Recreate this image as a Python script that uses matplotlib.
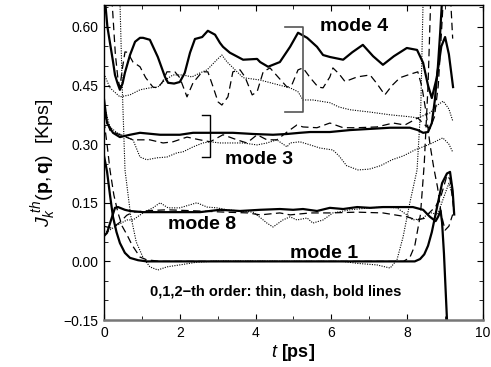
import matplotlib
matplotlib.use('Agg')
import matplotlib.pyplot as plt
import numpy as np

plt.rcParams['font.family'] = ['Liberation Sans', 'DejaVu Sans']
plt.rcParams['mathtext.fontset'] = 'custom'
plt.rcParams['mathtext.rm'] = 'Liberation Sans'
plt.rcParams['mathtext.it'] = 'Liberation Sans:italic'
plt.rcParams['mathtext.bf'] = 'Liberation Sans:bold'

# curves: (t [ps], J [Kps])
# mode 4
m4_bold = [(0.0, 0.80), (0.026, 0.669), (0.09, 0.60), (0.158, 0.559), (0.24, 0.51), (0.29, 0.477),
           (0.36, 0.455), (0.42, 0.439), (0.49, 0.455), (0.55, 0.482), (0.686, 0.528), (0.82, 0.562),
           (0.95, 0.572), (1.03, 0.572), (1.21, 0.567), (1.42, 0.523), (1.61, 0.472), (1.69, 0.457),
           (1.85, 0.455), (2.0, 0.459), (2.13, 0.482), (2.27, 0.534), (2.40, 0.569), (2.59, 0.574),
           (2.74, 0.590), (2.93, 0.580), (3.06, 0.559), (3.14, 0.549), (3.32, 0.534), (3.67, 0.516),
           (4.04, 0.518), (4.12, 0.510), (4.33, 0.498), (4.64, 0.510), (4.91, 0.549), (5.12, 0.585),
           (5.36, 0.572), (5.62, 0.549), (5.78, 0.528), (5.96, 0.523), (6.31, 0.516), (6.55, 0.535),
           (6.83, 0.554), (7.10, 0.525), (7.36, 0.503), (7.65, 0.525), (7.99, 0.546), (8.26, 0.541),
           (8.42, 0.508), (8.55, 0.450), (8.65, 0.418), (8.78, 0.470), (8.90, 0.550), (9.0, 0.574),
           (9.1, 0.530), (9.21, 0.446)]
m4_dash = [(0.15, 0.80), (0.21, 0.669), (0.3, 0.53), (0.37, 0.465), (0.42, 0.446), (0.48, 0.49),
           (0.554, 0.536), (0.62, 0.535), (0.765, 0.51), (0.95, 0.498), (1.1, 0.47), (1.29, 0.446),
           (1.42, 0.444), (1.55, 0.46), (1.66, 0.485), (1.87, 0.485), (2.0, 0.470), (2.19, 0.421),
           (2.35, 0.457), (2.59, 0.485), (2.74, 0.485), (2.88, 0.446), (3.01, 0.408), (3.11, 0.40),
           (3.27, 0.421), (3.40, 0.485), (3.59, 0.49), (3.72, 0.472), (3.91, 0.426), (4.04, 0.434),
           (4.20, 0.485), (4.38, 0.495), (4.59, 0.472), (4.83, 0.446), (4.95, 0.45), (5.12, 0.49),
           (5.25, 0.495), (5.44, 0.47), (5.65, 0.446), (5.78, 0.444), (5.96, 0.472), (6.04, 0.495),
           (6.2, 0.48), (6.36, 0.46), (6.68, 0.472), (7.02, 0.477), (7.2, 0.455), (7.41, 0.426),
           (7.6, 0.45), (7.81, 0.47), (8.05, 0.478), (8.28, 0.485), (8.39, 0.446), (8.5, 0.38),
           (8.6, 0.30), (8.7, 0.24), (8.8, 0.19), (8.9, 0.12), (9.0, 0.08), (9.1, 0.09), (9.2, 0.12)]
m4_thin = [(0.0, 0.48), (0.158, 0.444), (0.42, 0.421), (0.686, 0.426), (0.95, 0.439), (1.21, 0.444),
           (1.42, 0.446), (1.61, 0.464), (1.82, 0.477), (2.08, 0.477), (2.32, 0.472), (2.53, 0.482),
           (2.72, 0.490), (2.98, 0.516), (3.11, 0.528), (3.25, 0.51), (3.46, 0.49), (3.67, 0.470),
           (4.12, 0.464), (4.59, 0.452), (4.91, 0.444), (5.12, 0.434), (5.25, 0.413), (5.51, 0.413),
           (5.96, 0.406), (6.2, 0.395), (6.49, 0.388), (7.02, 0.382), (7.55, 0.375), (8.07, 0.370),
           (8.28, 0.367), (8.6, 0.38), (8.8, 0.40), (8.95, 0.41), (9.1, 0.39), (9.2, 0.36)]

# mode 3
m3_bold = [(0.0, 0.415), (0.08, 0.354), (0.237, 0.329), (0.42, 0.318), (0.686, 0.324), (0.95, 0.329),
           (1.48, 0.324), (2.0, 0.324), (2.35, 0.329), (2.80, 0.329), (3.40, 0.329), (3.93, 0.326),
           (4.46, 0.324), (4.83, 0.326), (5.17, 0.329), (5.44, 0.331), (5.96, 0.331), (6.49, 0.336),
           (7.02, 0.339), (7.55, 0.342), (8.07, 0.342), (8.28, 0.336), (8.42, 0.329), (8.55, 0.331),
           (8.65, 0.354), (8.73, 0.413), (8.81, 0.498), (8.87, 0.585), (8.92, 0.669), (8.97, 0.80)]
m3_dash = [(0.0, 0.38), (0.158, 0.335), (0.42, 0.324), (0.765, 0.311), (1.21, 0.311), (1.56, 0.303),
           (1.82, 0.306), (2.19, 0.318), (2.53, 0.311), (2.80, 0.306), (3.14, 0.324), (3.51, 0.311),
           (3.77, 0.303), (4.04, 0.324), (4.30, 0.311), (4.56, 0.311), (4.83, 0.331), (5.09, 0.349),
           (5.25, 0.344), (5.62, 0.342), (5.96, 0.354), (6.31, 0.342), (6.68, 0.342), (7.20, 0.344),
           (7.63, 0.354), (7.94, 0.349), (8.28, 0.367), (8.45, 0.35), (8.6, 0.34), (8.72, 0.37),
           (8.82, 0.45), (8.9, 0.58), (8.97, 0.70), (9.05, 0.76), (9.13, 0.70), (9.2, 0.57)]
m3_thin = [(0.0, 0.40), (0.158, 0.344), (0.343, 0.329), (0.55, 0.32), (0.765, 0.311), (0.95, 0.267),
           (1.13, 0.26), (1.40, 0.265), (1.66, 0.267), (1.93, 0.278), (2.08, 0.28), (2.35, 0.293),
           (2.61, 0.303), (2.80, 0.306), (3.06, 0.303), (3.32, 0.303), (3.67, 0.303), (4.04, 0.298),
           (4.30, 0.303), (4.56, 0.311), (4.83, 0.293), (4.91, 0.303), (5.17, 0.306), (5.44, 0.298),
           (5.70, 0.29), (6.04, 0.285), (6.2, 0.27), (6.4, 0.245), (6.7, 0.234), (7.0, 0.236),
           (7.3, 0.245), (7.6, 0.26), (7.9, 0.27), (8.2, 0.285), (8.6, 0.30), (8.94, 0.316),
           (9.1, 0.30), (9.2, 0.28)]

# mode 8
m8_bold = [(0.0, 0.065), (0.08, 0.073), (0.2, 0.11), (0.29, 0.137), (0.37, 0.139), (0.55, 0.132),
           (0.686, 0.129), (1.03, 0.126), (1.66, 0.126), (2.53, 0.126), (3.06, 0.132), (3.59, 0.129),
           (4.12, 0.132), (4.64, 0.134), (4.99, 0.132), (5.25, 0.134), (5.62, 0.129), (5.96, 0.137),
           (6.31, 0.134), (6.68, 0.139), (7.02, 0.137), (7.36, 0.139), (7.73, 0.139), (8.15, 0.139),
           (8.42, 0.132), (8.6, 0.114), (8.75, 0.103), (8.82, 0.115), (8.88, 0.13), (8.92, 0.10),
           (8.97, 0.02), (9.05, -0.15), (9.1, -0.35)]
m8_dash = [(0.0, 0.09), (0.2, 0.085), (0.42, 0.10), (0.6, 0.118), (0.765, 0.126), (1.2, 0.13),
           (1.66, 0.132), (2.5, 0.129), (3.2, 0.126), (3.8, 0.124), (4.12, 0.119), (4.64, 0.124),
           (4.91, 0.119), (5.44, 0.124), (5.96, 0.124), (6.68, 0.126), (7.36, 0.124), (7.99, 0.114),
           (8.26, 0.106), (8.45, 0.11), (8.6, 0.126), (8.75, 0.14), (8.9, 0.17), (9.05, 0.22),
           (9.13, 0.21), (9.22, 0.14)]
m8_thin = [(0.0, 0.08), (0.08, 0.075), (0.3, 0.09), (0.607, 0.106), (0.765, 0.106), (1.03, 0.124),
           (1.29, 0.137), (1.48, 0.15), (1.69, 0.137), (2.0, 0.137), (2.45, 0.15), (2.72, 0.139),
           (2.98, 0.137), (3.25, 0.132), (3.59, 0.129), (3.93, 0.126), (4.15, 0.11), (4.30, 0.098),
           (4.46, 0.088), (4.72, 0.106), (4.91, 0.114), (5.09, 0.106), (5.36, 0.111), (5.51, 0.098),
           (5.78, 0.106), (6.04, 0.124), (6.49, 0.132), (7.02, 0.137), (7.36, 0.139), (7.73, 0.137),
           (7.99, 0.119), (8.15, 0.106), (8.4, 0.11), (8.6, 0.125), (8.8, 0.12), (8.95, 0.16),
           (9.1, 0.20), (9.2, 0.17)]

# mode 1
m1_bold = [(0.0, 0.27), (0.08, 0.23), (0.158, 0.17), (0.237, 0.114), (0.33, 0.075), (0.42, 0.047),
           (0.55, 0.022), (0.686, 0.009), (0.9, 0.003), (1.13, 0.0), (8.2, 0.0), (8.34, 0.006),
           (8.45, 0.018), (8.55, 0.04), (8.65, 0.075), (8.79, 0.14), (8.92, 0.20), (9.05, 0.225),
           (9.13, 0.229), (9.2, 0.18), (9.24, 0.12)]
m1_dash = [(0.0, 0.36), (0.08, 0.30), (0.158, 0.234), (0.26, 0.17), (0.37, 0.124), (0.48, 0.09),
           (0.607, 0.068), (0.74, 0.042), (0.95, 0.011), (1.13, 0.004), (1.5, 0.0), (7.9, 0.0),
           (8.07, 0.01), (8.2, 0.04), (8.35, 0.12), (8.45, 0.25), (8.55, 0.45), (8.62, 0.669),
           (8.68, 0.80)]
m1_thin = [(0.40, 0.80), (0.42, 0.669), (0.48, 0.45), (0.554, 0.234), (0.7, 0.12), (0.85, 0.05),
           (1.03, 0.01), (1.21, -0.014), (1.42, -0.022), (1.66, -0.014), (2.0, -0.009), (2.45, -0.002),
           (3.0, 0.001), (6.3, 0.0), (6.68, -0.005), (7.2, -0.009), (7.55, -0.017), (7.73, 0.004),
           (7.89, 0.062), (8.07, 0.15), (8.26, 0.234), (8.36, 0.40), (8.42, 0.669), (8.45, 0.80)]

labels = ['mode 4', 'mode 3', 'mode 8', 'mode 1']
label_pos = [(6.6, 0.60), (4.1, 0.26), (2.58, 0.095), (5.8, 0.02)]

fig = plt.figure(figsize=(4.91, 3.67), dpi=100)
ax = fig.add_axes([0.2118, 0.128, 0.7719, 0.8584])

thin = dict(color='k', lw=0.8, ls=(0, (1, 1.2)))
dash = dict(color='k', lw=0.9, ls=(0, (6, 3.5)))
bold = dict(color='k', lw=1.6, ls='-')

for curve in [m4_thin, m3_thin, m8_thin, m1_thin]:
    t, J = zip(*curve)
    ax.plot(t, J, **thin)
for curve in [m4_dash, m3_dash, m8_dash, m1_dash]:
    t, J = zip(*curve)
    ax.plot(t, J, **dash)
for curve in [m4_bold, m3_bold, m8_bold, m1_bold]:
    t, J = zip(*curve)
    ax.plot(t, J, **bold)

# brackets
ax.plot([4.78, 5.25, 5.25, 4.78], [0.60, 0.60, 0.382, 0.382], color='#555555', lw=1.2)
ax.plot([2.59, 2.80, 2.80, 2.59], [0.375, 0.375, 0.267, 0.267], color='k', lw=1.0)

for lab, (x, y) in zip(labels, label_pos):
    ax.text(x, y, lab, fontsize=14, fontweight='bold', ha='center', va='center')

ax.text(4.53, -0.078, '0,1,2\u2212th order: thin, dash, bold lines', fontsize=10.5,
        fontweight='bold', ha='center', va='center')

ax.set_xlim(0, 10)
ax.set_ylim(-0.15, 0.656)
ax.set_xticks([0, 2, 4, 6, 8, 10])
ax.set_xticks(np.arange(0, 11, 1), minor=True)
ax.set_yticks([-0.15, 0.0, 0.15, 0.30, 0.45, 0.60])
ax.set_yticklabels(['\u22120.15', '0.00', '0.15', '0.30', '0.45', '0.60'])
ax.set_yticks(np.arange(-0.15, 0.66, 0.05), minor=True)
ax.tick_params(which='both', direction='in', top=True, right=True, labelsize=10, pad=4)
ax.tick_params(which='major', length=4)
ax.tick_params(which='minor', length=3)
for s in ['top', 'right', 'left']:
    ax.spines[s].set_linewidth(1.0)
ax.spines['bottom'].set_color('#777777')
ax.spines['bottom'].set_linewidth(1.8)

ax.set_xlabel(r'$t$ [ps]', fontsize=13, fontweight='bold', labelpad=2)
ax.set_ylabel(r'$J_k^{\ th}(\mathbf{p},\mathbf{q})$  [Kps]', fontsize=14, labelpad=4)

fig.savefig('out.png', dpi=100)
